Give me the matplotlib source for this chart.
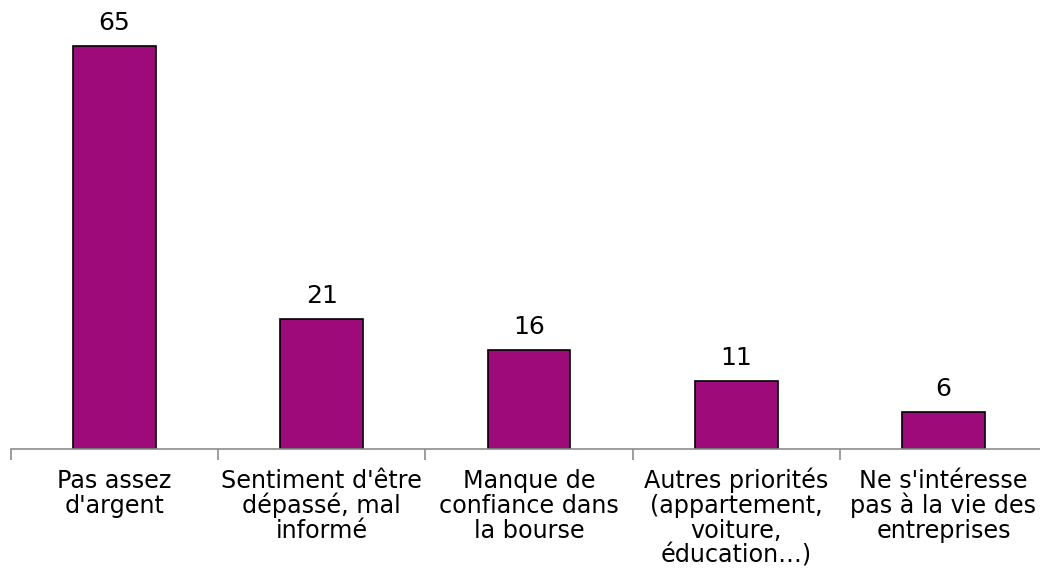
import matplotlib.pyplot as plt

# ------------------------------------------------------------
# Data
# ------------------------------------------------------------

categories = [
    "Pas assez\nd'argent",
    "Sentiment d'être\ndépassé, mal\ninformé",
    "Manque de\nconfiance dans\nla bourse",
    "Autres priorités\n(appartement,\nvoiture,\néducation…)",
    "Ne s'intéresse\npas à la vie des\nentreprises",
]
values = [65, 21, 16, 11, 6]

BAR_COLOR = "#9E0A7A"
AXIS_COLOR = "#8C8C8C"

plt.rcParams["font.family"] = "DejaVu Sans"

# ------------------------------------------------------------
# Figure
# ------------------------------------------------------------

W, H = 1040, 582
fig = plt.figure(figsize=(W / 100, H / 100), dpi=100)

x0, x1 = 11, 1047
y_base = 449
px_per_unit = 6.2
ymax = 70
ax = fig.add_axes([
    x0 / W,
    (H - y_base) / H,
    (x1 - x0) / W,
    ymax * px_per_unit / H,
])

positions = list(range(len(values)))
bars = ax.bar(
    positions,
    values,
    width=0.4,
    color=BAR_COLOR,
    edgecolor="black",
    linewidth=1.2,
    zorder=2,
)

for rect, v in zip(bars, values):
    ax.text(
        rect.get_x() + rect.get_width() / 2,
        v + 1.7,
        str(v),
        ha="center",
        va="bottom",
        fontsize=18,
    )

ax.set_xlim(-0.5, len(values) - 0.5)
ax.set_ylim(0, ymax)

# category labels centred under each bar, one baseline per line
ax.set_xticks(positions)
ax.set_xticklabels([])
ax.tick_params(axis="x", which="major", length=0)
first_baseline = 39
line_step = 25
for p, label in zip(positions, categories):
    for k, line in enumerate(label.split("\n")):
        ax.annotate(
            line,
            xy=(p, 0),
            xycoords=("data", "axes fraction"),
            xytext=(0, -(first_baseline + k * line_step)),
            textcoords="offset pixels",
            ha="center",
            va="baseline",
            fontsize=17.2,
            annotation_clip=False,
        )

# separators between categories
ax.set_xticks([p - 0.5 for p in positions] + [len(values) - 0.5], minor=True)
ax.tick_params(axis="x", which="minor", length=8, width=1.2, color=AXIS_COLOR)

ax.set_yticks([])
for side in ["left", "right", "top"]:
    ax.spines[side].set_visible(False)
ax.spines["bottom"].set_color(AXIS_COLOR)
ax.spines["bottom"].set_linewidth(1.2)
ax.spines["bottom"].set_zorder(3)

fig.savefig("out.png", dpi=100)
